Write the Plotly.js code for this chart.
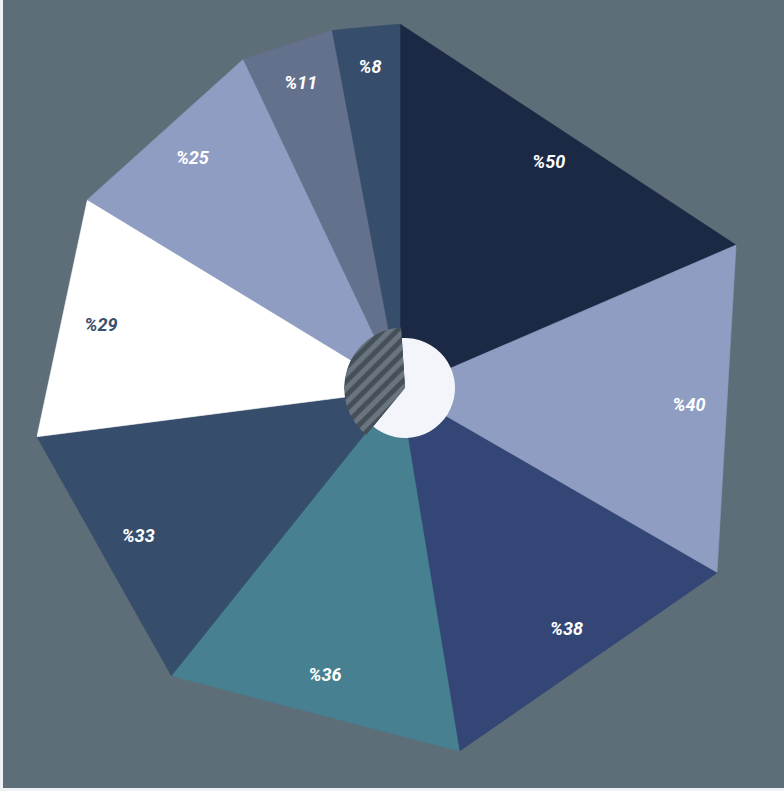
<!DOCTYPE html>
<html>
<head>
<meta charset="utf-8">
<script src="https://cdn.plot.ly/plotly-3.0.1.min.js"></script>
<style>html,body{margin:0;padding:0;background:#eef1f5;}#chart{width:784px;height:791px;}</style>
</head>
<body>
<div id="chart"></div>
<script>
// ---- data ----
var values = [50, 40, 38, 36, 33, 29, 25, 11, 8];
var labels = ['%50', '%40', '%38', '%36', '%33', '%29', '%25', '%11', '%8'];
var colors = ['#1c2944', '#8f9dc2', '#344675', '#478090', '#364d6b', '#ffffff', '#8f9dc2', '#64718c', '#364d6b'];
var labelColors = ['#ffffff', '#ffffff', '#ffffff', '#ffffff', '#ffffff', '#3b4f6c', '#ffffff', '#ffffff', '#ffffff'];
var centerShares = [38, 62];

// ---- build ----
var total = values.reduce(function(a, b){ return a + b; }, 0);
var traces = [];
var start = 0;
var lblR = [], lblT = [];
values.forEach(function(v, i){
  var w = v / total * 360;
  var a0 = start, a1 = start + w;
  traces.push({
    type: 'scatterpolar', subplot: 'polar',
    r: [0, 1, 1, 0], theta: [a0, a0, a1, a1],
    mode: 'lines', fill: 'toself', fillcolor: colors[i],
    line: {color: colors[i], width: 0.6},
    hoverinfo: 'skip', showlegend: false
  });
  lblT.push(start + w / 2);
  lblR.push(0.885 * Math.cos(w / 2 * Math.PI / 180));
  start = a1;
});
traces.push({
  type: 'scatterpolar', subplot: 'polar',
  r: lblR, theta: lblT, mode: 'text', text: labels,
  textfont: {family: 'Roboto, sans-serif', size: 18, color: labelColors, weight: 'bold', style: 'italic'},
  hoverinfo: 'skip', showlegend: false
});

// central disc with hatched share
var cTotal = centerShares[0] + centerShares[1];
var hW = centerShares[0] / cTotal * 360;
var lW = centerShares[1] / cTotal * 360;
var hMid = 93.7 + hW / 2;
traces.push({
  type: 'barpolar', subplot: 'polar2',
  r: [50], theta: [hMid + 180], width: [lW],
  marker: {color: '#f4f5fa', line: {width: 0}},
  hoverinfo: 'skip', showlegend: false
});
traces.push({
  type: 'barpolar', subplot: 'polar2',
  r: [61], theta: [hMid], width: [hW],
  marker: {color: '#6b757f', line: {width: 0},
    pattern: {shape: '/', bgcolor: '#6b757f', fgcolor: '#454f58', size: 10, solidity: 0.5}},
  hoverinfo: 'skip', showlegend: false
});

var W = 784, H = 791;
var layout = {
  width: W, height: H,
  margin: {l: 0, r: 0, t: 0, b: 0},
  paper_bgcolor: '#eef1f5',
  plot_bgcolor: 'rgba(0,0,0,0)',
  showlegend: false,
  shapes: [{type: 'rect', xref: 'paper', yref: 'paper', x0: 3 / W, x1: 1, y0: 3 / H, y1: 1,
            fillcolor: '#5e6e78', line: {width: 0}, layer: 'below'}],
  polar: {
    domain: {x: [34 / W, 766 / W], y: [1 - 756 / H, 1 - 24 / H]},
    bgcolor: 'rgba(0,0,0,0)',
    radialaxis: {visible: false, range: [0, 1]},
    angularaxis: {visible: false, direction: 'clockwise', rotation: 90}
  },
  polar2: {
    domain: {x: [344 / W, 466 / W], y: [1 - 449 / H, 1 - 327 / H]},
    bgcolor: 'rgba(0,0,0,0)',
    bargap: 0,
    radialaxis: {visible: false, range: [0, 61]},
    angularaxis: {visible: false, direction: 'counterclockwise', rotation: 0}
  }
};
Plotly.newPlot('chart', traces, layout, {displayModeBar: false, staticPlot: true});
</script>
</body>
</html>
